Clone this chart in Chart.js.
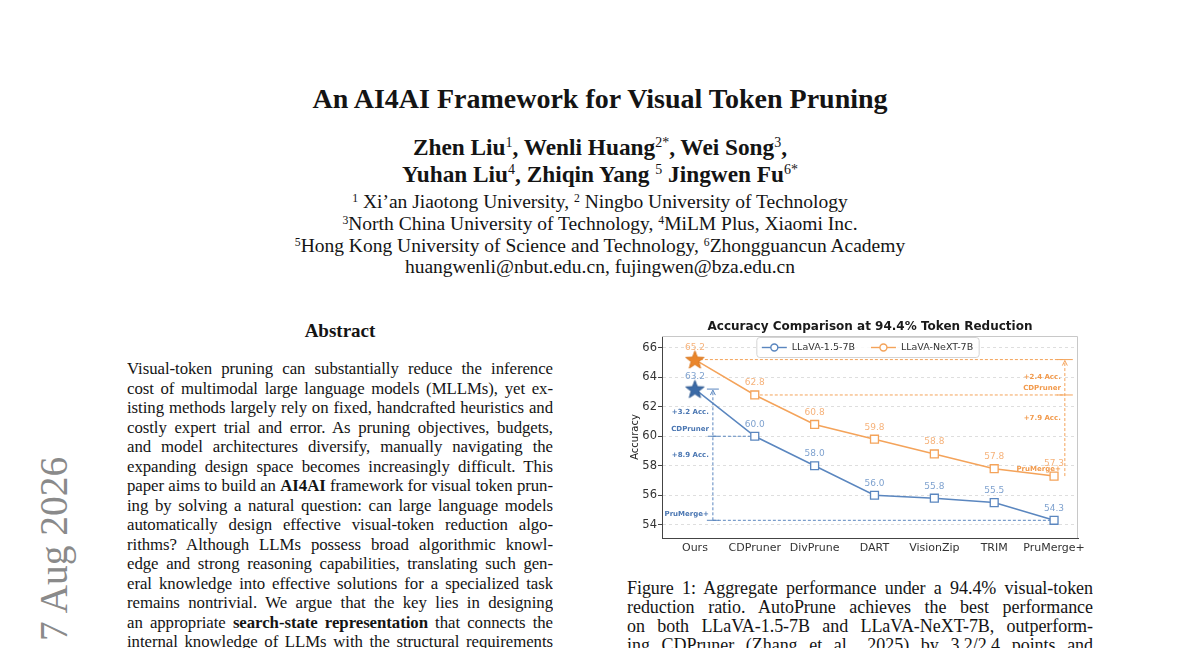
<!DOCTYPE html>
<html>
<head>
<meta charset="utf-8">
<script src="https://cdn.jsdelivr.net/npm/chart.js@4.4.1/dist/chart.umd.min.js"></script>
<style>
  body { margin: 0; width: 1200px; height: 648px; overflow: hidden; background: #fff; position: relative;
         font-family: "Liberation Serif", "Times New Roman", serif; color: #141414; }
  .ctr { position: absolute; left: 0; width: 1200px; text-align: center; white-space: nowrap; }
  .title { top: 83px; font-size: 28px; font-weight: bold; }
  .auth { font-size: 23.3px; font-weight: bold; }
  .aff { font-size: 19.5px; }
  sup { font-size: 0.6em; line-height: 0; vertical-align: 0.55em; font-weight: normal; }
  .col { position: absolute; }
  .col div { height: 19.5px; line-height: 19.5px; overflow: hidden; text-align: justify; text-align-last: justify; }
  #abs { left: 127px; top: 359px; width: 426px; font-size: 16.8px; word-spacing: -1.5px; letter-spacing: -0.05px; }
  #cap { left: 627px; top: 579px; width: 466px; font-size: 18px; word-spacing: -1.5px; letter-spacing: -0.05px; }
  #cap div { height: 19px; line-height: 19px; }
  .abshead { position: absolute; left: 127px; width: 426px; top: 320px; text-align: center; font-size: 19px; font-weight: bold; }
  .stamp { position: absolute; left: 35px; top: 641px; font-size: 39.5px; line-height: 39.5px; color: #8a8a8a;
           transform-origin: left top; transform: rotate(-90deg); white-space: nowrap; }
  #wrap { position: absolute; left: 620px; top: 316px; width: 470px; height: 246px; }
</style>
</head>
<body>
<div class="ctr title">An AI4AI Framework for Visual Token Pruning</div>
<div class="ctr auth" style="top:134px">Zhen Liu<sup>1</sup>, Wenli Huang<sup>2*</sup>, Wei Song<sup>3</sup>,</div>
<div class="ctr auth" style="top:161px">Yuhan Liu<sup>4</sup>, Zhiqin Yang <sup>5</sup> Jingwen Fu<sup>6*</sup></div>
<div class="ctr aff" style="top:191px"><sup>1</sup> Xi’an Jiaotong University, <sup>2</sup> Ningbo University of Technology</div>
<div class="ctr aff" style="top:213px"><sup>3</sup>North China University of Technology, <sup>4</sup>MiLM Plus, Xiaomi Inc.</div>
<div class="ctr aff" style="top:235px"><sup>5</sup>Hong Kong University of Science and Technology, <sup>6</sup>Zhongguancun Academy</div>
<div class="ctr aff" style="top:256px">huangwenli@nbut.edu.cn, fujingwen@bza.edu.cn</div>

<div class="abshead">Abstract</div>
<div class="col" id="abs">
  <div>Visual-token pruning can substantially reduce the inference</div>
  <div>cost of multimodal large language models (MLLMs), yet ex-</div>
  <div>isting methods largely rely on fixed, handcrafted heuristics and</div>
  <div>costly expert trial and error. As pruning objectives, budgets,</div>
  <div>and model architectures diversify, manually navigating the</div>
  <div>expanding design space becomes increasingly difficult. This</div>
  <div>paper aims to build an <b>AI4AI</b> framework for visual token prun-</div>
  <div>ing by solving a natural question: can large language models</div>
  <div>automatically design effective visual-token reduction algo-</div>
  <div>rithms? Although LLMs possess broad algorithmic knowl-</div>
  <div>edge and strong reasoning capabilities, translating such gen-</div>
  <div>eral knowledge into effective solutions for a specialized task</div>
  <div>remains nontrivial. We argue that the key lies in designing</div>
  <div>an appropriate <b>search-state representation</b> that connects the</div>
  <div>internal knowledge of LLMs with the structural requirements</div>
</div>

<div class="stamp">7 Aug 2026</div>

<div id="wrap"><canvas id="graph"></canvas></div>

<div class="col" id="cap">
  <div>Figure 1: Aggregate performance under a 94.4% visual-token</div>
  <div>reduction ratio. AutoPrune achieves the best performance</div>
  <div>on both LLaVA-1.5-7B and LLaVA-NeXT-7B, outperform-</div>
  <div>ing CDPruner (Zhang et al., 2025) by 3.2/2.4 points and</div>
</div>

<script>
const methods = ["Ours", "CDPruner", "DivPrune", "DART", "VisionZip", "TRIM", "PruMerge+"];
const llava15 = [63.2, 60.0, 58.0, 56.0, 55.8, 55.5, 54.3];
const llavaNext = [65.2, 62.8, 60.8, 59.8, 58.8, 57.8, 57.3];
const yTicks = [54, 56, 58, 60, 62, 64, 66];
const chartTitle = "Accuracy Comparison at 94.4% Token Reduction";

const BLUE = "#5a86bf", BLUE_STAR = "#3b6aa6", BLUE_TXT = "#4a76b2", BLUE_VAL = "#7fa2cf";
const ORANGE = "#f4a35a", ORANGE_STAR = "#ea862b", ORANGE_TXT = "#f29a4c", ORANGE_VAL = "#f6b27a";
const FONT = "'DejaVu Sans', sans-serif";

// filled five-point star used as the marker for "Ours"
function makeStar(fill, edge) {
    const size = 21;
    const c = document.createElement("canvas");
    c.width = size; c.height = size;
    const g = c.getContext("2d");
    const r = 9.6, ri = r * 0.42, cx = size / 2, cy = size / 2 + 0.8;
    g.beginPath();
    for (let k = 0; k < 10; k++) {
        const a = -Math.PI / 2 + k * Math.PI / 5;
        const rr = k % 2 ? ri : r;
        g.lineTo(cx + rr * Math.cos(a), cy + rr * Math.sin(a));
    }
    g.closePath();
    g.fillStyle = fill; g.fill();
    g.strokeStyle = edge; g.lineWidth = 1; g.stroke();
    return c;
}

function series(label, values, color, star) {
    return {
        label: label,
        data: values.map((v, i) => ({ x: i, y: v })),
        borderColor: color,
        borderWidth: 1.5,
        pointStyle: values.map((v, i) => i === 0 ? star : "rect"),
        pointRadius: 5.6,
        pointBackgroundColor: "#fff",
        pointBorderColor: color,
        pointBorderWidth: 1.3,
        tension: 0,
    };
}

function dashed(ctx, x1, y1, x2, y2) {
    ctx.save();
    ctx.setLineDash([3, 2]);
    ctx.beginPath(); ctx.moveTo(x1, y1); ctx.lineTo(x2, y2); ctx.stroke();
    ctx.restore();
}
function cap(ctx, xc, yc, half) {
    ctx.beginPath(); ctx.moveTo(xc - half, yc); ctx.lineTo(xc + half, yc); ctx.stroke();
}
function arrowUp(ctx, xc, yTip) {
    ctx.beginPath();
    ctx.moveTo(xc - 2.5, yTip + 5); ctx.lineTo(xc, yTip); ctx.lineTo(xc + 2.5, yTip + 5);
    ctx.stroke();
}

// gap brackets between "Ours" and CDPruner / PruMerge+
const gapPlugin = {
    id: "gaps",
    beforeDatasetsDraw(chart) {
        const { ctx, scales: { x, y } } = chart;
        ctx.save();
        ctx.lineWidth = 1;

        const last = methods.length - 1;
        // LLaVA-1.5
        const bx = x.getPixelForValue(0.3);
        ctx.strokeStyle = BLUE;
        dashed(ctx, bx, y.getPixelForValue(llava15[1]), x.getPixelForValue(1), y.getPixelForValue(llava15[1]));
        dashed(ctx, bx, y.getPixelForValue(llava15[last]), x.getPixelForValue(last), y.getPixelForValue(llava15[last]));
        dashed(ctx, bx, y.getPixelForValue(llava15[last]), bx, y.getPixelForValue(llava15[0]) + 1);
        arrowUp(ctx, bx, y.getPixelForValue(llava15[0]) + 1);
        cap(ctx, bx, y.getPixelForValue(llava15[0]), 6);
        cap(ctx, bx, y.getPixelForValue(llava15[1]), 5);
        cap(ctx, bx, y.getPixelForValue(llava15[last]), 6);

        // LLaVA-NeXT
        const ox = x.getPixelForValue(6.18);
        ctx.strokeStyle = ORANGE;
        dashed(ctx, x.getPixelForValue(0), y.getPixelForValue(llavaNext[0]), ox, y.getPixelForValue(llavaNext[0]));
        dashed(ctx, x.getPixelForValue(1), y.getPixelForValue(llavaNext[1]), ox, y.getPixelForValue(llavaNext[1]));
        dashed(ctx, ox, y.getPixelForValue(llavaNext[last]), ox, y.getPixelForValue(llavaNext[0]) + 1);
        arrowUp(ctx, ox, y.getPixelForValue(llavaNext[0]) + 1);
        cap(ctx, ox, y.getPixelForValue(llavaNext[0]), 8);
        cap(ctx, ox, y.getPixelForValue(llavaNext[1]), 8);
        ctx.restore();
    },
    afterDatasetsDraw(chart) {
        const { ctx, scales: { x, y } } = chart;
        const last = methods.length - 1;
        ctx.save();
        ctx.font = "bold 7px " + FONT;
        ctx.textAlign = "right";
        ctx.textBaseline = "middle";

        const bx = x.getPixelForValue(0.3) - 4;
        ctx.fillStyle = BLUE_TXT;
        ctx.fillText("+" + (llava15[0] - llava15[1]).toFixed(1) + " Acc.", bx, y.getPixelForValue((llava15[0] + llava15[1]) / 2));
        ctx.fillText(methods[1], bx, y.getPixelForValue(llava15[1]) - 7);
        ctx.fillText("+" + (llava15[0] - llava15[last]).toFixed(1) + " Acc.", bx, y.getPixelForValue((llava15[0] + llava15[last]) / 2));
        ctx.fillText(methods[last], bx, y.getPixelForValue(llava15[last]) - 6);

        const ox = x.getPixelForValue(6.18) - 4;
        ctx.fillStyle = ORANGE_TXT;
        ctx.fillText("+" + (llavaNext[0] - llavaNext[1]).toFixed(1) + " Acc.", ox, y.getPixelForValue((llavaNext[0] + llavaNext[1]) / 2));
        ctx.fillText(methods[1], ox, y.getPixelForValue(llavaNext[1]) - 7);
        ctx.fillText("+" + (llavaNext[0] - llavaNext[last]).toFixed(1) + " Acc.", ox, y.getPixelForValue((llavaNext[0] + llavaNext[last]) / 2));
        ctx.fillText(methods[last], ox, y.getPixelForValue(llavaNext[last]) - 7);

        // value labels above markers
        ctx.font = "9px " + FONT;
        ctx.textAlign = "center";
        const valColors = [BLUE_VAL, ORANGE_VAL];
        chart.data.datasets.forEach((ds, di) => {
            ctx.fillStyle = valColors[di];
            chart.getDatasetMeta(di).data.forEach((pt, i) => {
                ctx.fillText(ds.data[i].y.toFixed(1), pt.x, pt.y - 12);
            });
        });
        ctx.restore();
    },
    afterDraw(chart) {
        const { ctx, chartArea: a } = chart;
        ctx.save();
        // light top / right spines
        ctx.strokeStyle = "#c8c8c8";
        ctx.lineWidth = 1;
        ctx.beginPath();
        ctx.moveTo(a.left, a.top + 0.5); ctx.lineTo(a.right - 0.5, a.top + 0.5); ctx.lineTo(a.right - 0.5, a.bottom);
        ctx.stroke();

        // title centred over the plot area
        ctx.font = "bold 12px " + FONT;
        ctx.fillStyle = "#1a1a1a";
        ctx.textAlign = "center";
        ctx.textBaseline = "middle";
        ctx.fillText(chartTitle, (a.left + a.right) / 2, a.top - 9);

        // legend inside the plot, top centre
        ctx.font = "9.5px " + FONT;
        const sets = chart.data.datasets;
        const widths = sets.map(d => ctx.measureText(d.label).width);
        const boxW = 5 + sets.length * 30 + widths.reduce((s, w) => s + w, 0) + 16 * (sets.length - 1) + 6;
        const boxH = 20;
        const bx = (a.left + a.right) / 2 - boxW / 2 - 2;
        const by = a.top + 1.5;
        ctx.fillStyle = "rgba(255,255,255,0.85)";
        ctx.strokeStyle = "#d4d4d4";
        ctx.beginPath();
        ctx.roundRect(bx, by, boxW, boxH, 3);
        ctx.fill(); ctx.stroke();
        let cx = bx + 5;
        const cy = by + boxH / 2;
        sets.forEach((d, i) => {
            ctx.strokeStyle = d.borderColor;
            ctx.lineWidth = 1.4;
            ctx.beginPath(); ctx.moveTo(cx, cy); ctx.lineTo(cx + 25, cy); ctx.stroke();
            ctx.beginPath(); ctx.arc(cx + 12.5, cy, 3.5, 0, Math.PI * 2);
            ctx.fillStyle = "#fff"; ctx.fill(); ctx.stroke();
            ctx.fillStyle = "#333";
            ctx.textAlign = "left"; ctx.textBaseline = "middle";
            ctx.fillText(d.label, cx + 30, cy + 0.5);
            cx += 30 + widths[i] + 16;
        });
        ctx.restore();
    }
};

const graph = document.getElementById("graph").getContext("2d");

let myChart = new Chart(graph, {
    type: "line",
    data: {
        datasets: [
            series("LLaVA-1.5-7B", llava15, BLUE, makeStar(BLUE_STAR, "#2f5a92")),
            series("LLaVA-NeXT-7B", llavaNext, ORANGE, makeStar(ORANGE_STAR, "#d9761c")),
        ],
    },
    options: {
        responsive: true,
        maintainAspectRatio: false,
        animation: false,
        events: [],
        layout: { padding: { right: 12, top: 20 } },
        plugins: {
            legend: { display: false },
            tooltip: { enabled: false },
            title: { display: false },
        },
        scales: {
            x: {
                type: "linear",
                min: -0.55,
                max: 6.4,
                afterBuildTicks: (s) => { s.ticks = methods.map((m, i) => ({ value: i })); },
                afterFit: (s) => { s.height = 24; },
                ticks: {
                    callback: (v) => methods[v],
                    color: "#333",
                    font: { family: FONT, size: 11 },
                    padding: 4,
                    maxRotation: 0,
                    autoSkip: false,
                },
                grid: { display: false, drawTicks: false },
                border: { display: true, color: "#444", width: 1 },
            },
            y: {
                min: 53.1,
                max: 66.8,
                afterBuildTicks: (s) => { s.ticks = yTicks.map(v => ({ value: v })); },
                afterFit: (s) => { s.width = 42; },
                ticks: {
                    color: "#333",
                    font: { family: FONT, size: 11.5 },
                    padding: 1,
                },
                grid: {
                    color: "#dedede",
                    tickColor: "#444",
                    tickLength: 4,
                    tickBorderDash: [],
                },
                border: { display: true, color: "#444", width: 1, dash: [3, 3] },
                title: {
                    display: true,
                    text: "Accuracy",
                    color: "#222",
                    font: { family: FONT, size: 10 },
                    padding: { top: 9, bottom: 0 },
                },
            },
        },
    },
    plugins: [gapPlugin],
});
</script>
</body>
</html>
